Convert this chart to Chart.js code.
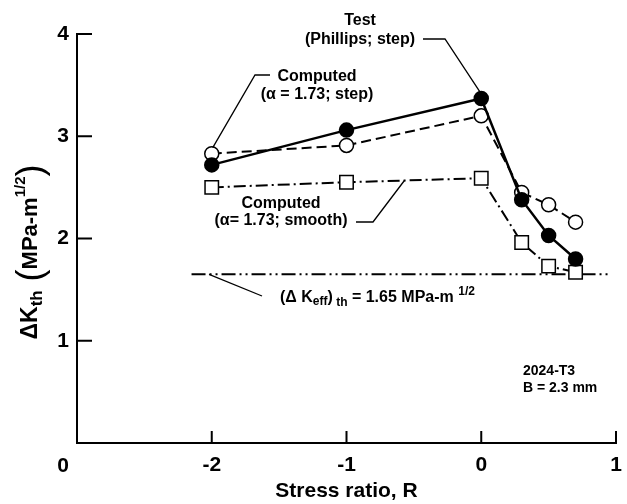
<!DOCTYPE html>
<html>
<head>
<meta charset="utf-8">
<script src="https://cdn.jsdelivr.net/npm/chart.js@4"></script>
<style>
  body { margin: 0; background: #fff; }
  canvas { display: block; }
</style>
</head>
<body>
<canvas id="thresholdChart" width="627" height="504"></canvas>
<script>
// stress ratios and threshold values (MPa-m^1/2)
const stressRatio = [-2, -1, 0, 0.3, 0.5, 0.7];
const testK = [2.72, 3.06, 3.37, 2.38, 2.03, 1.80];
const computedStepK = [2.83, 2.91, 3.20, 2.45, 2.33, 2.16];
const computedSmoothK = [2.50, 2.55, 2.59, 1.96, 1.73, 1.67];
const effRange = [-2.15, 0.95];
const effK = 1.65;
const xTicks = [-2, -1, 0, 1];
const yTicks = [1, 2, 3, 4];

const FONT = '"Liberation Sans", Arial, Helvetica, sans-serif';

function pts(xs, ys) {
    return xs.map((x, i) => ({ x: x, y: ys[i] }));
}

// inward tick marks, corner zero, axis titles and callouts
const decorations = {
    id: 'decorations',
    afterDraw(chart) {
        const ctx = chart.ctx;
        const xs = chart.scales.x;
        const ys = chart.scales.y;
        const area = chart.chartArea;
        ctx.save();
        ctx.strokeStyle = '#000';
        ctx.lineWidth = 2;
        ctx.beginPath();
        xTicks.forEach(v => {
            const px = xs.getPixelForValue(v);
            ctx.moveTo(px, area.bottom);
            ctx.lineTo(px, area.bottom - 12);
        });
        yTicks.forEach(v => {
            const py = ys.getPixelForValue(v);
            ctx.moveTo(area.left, py);
            ctx.lineTo(area.left + 15, py);
        });
        ctx.stroke();

        ctx.fillStyle = '#000';
        ctx.font = 'bold 21px ' + FONT;
        ctx.textAlign = 'center';
        ctx.textBaseline = 'middle';
        ctx.fillText('0', 63, 466);
        ctx.fillText('Stress ratio, R', (area.left + area.right) / 2, 491);

        // rotated y title with subscript / superscript
        ctx.save();
        ctx.translate(31, 252);
        ctx.rotate(-Math.PI / 2);
        drawRich(ctx, [
            { t: '\u0394K', s: 23, dy: 0 },
            { t: 'th', s: 17, dy: 6 },
            { t: '  ', s: 16, dy: 0 },
            { t: '(', s: 36, dy: 1, w: 'normal' },
            { t: 'MPa-m', s: 22, dy: 0 },
            { t: '1/2', s: 15, dy: -10 },
            { t: ')', s: 36, dy: 1, w: 'normal' }
        ], 0, 0, 'center');
        ctx.restore();

        ctx.lineWidth = 1.3;
        const P = (x, y) => [xs.getPixelForValue(x), ys.getPixelForValue(y)];

        // Test label
        ctx.font = 'bold 16px ' + FONT;
        ctx.textAlign = 'center';
        ctx.fillText('Test', 360, 21);
        ctx.fillText('(Phillips; step)', 360, 40);
        let t = P(stressRatio[2], testK[2]);
        ctx.beginPath();
        ctx.moveTo(423, 39);
        ctx.lineTo(445, 39);
        ctx.lineTo(t[0] - 1, t[1] - 6);
        ctx.stroke();

        // Computed step label
        ctx.fillText('Computed', 317, 77);
        ctx.fillText('(\u03b1 = 1.73; step)', 317, 95);
        t = P(stressRatio[0], computedStepK[0]);
        ctx.beginPath();
        ctx.moveTo(270, 75);
        ctx.lineTo(255, 75);
        ctx.lineTo(t[0] + 1, t[1] - 6);
        ctx.stroke();

        // Computed smooth label
        ctx.fillText('Computed', 281, 204);
        ctx.fillText('(\u03b1= 1.73; smooth)', 281, 221);
        const rx = -0.57;
        const ky = computedSmoothK[1] + (computedSmoothK[2] - computedSmoothK[1]) * (rx + 1);
        t = P(rx, ky);
        ctx.beginPath();
        ctx.moveTo(356, 222);
        ctx.lineTo(373, 222);
        ctx.lineTo(t[0], t[1]);
        ctx.stroke();

        // effective threshold label
        drawRich(ctx, [
            { t: '(\u0394 K', s: 16, dy: 0 },
            { t: 'eff', s: 12, dy: 4 },
            { t: ')', s: 16, dy: 0 },
            { t: ' th', s: 12, dy: 5 },
            { t: ' = 1.65 MPa-m ', s: 16, dy: 0 },
            { t: '1/2', s: 12, dy: -6 }
        ], 280, 298, 'left');
        t = P(-2.02, effK);
        ctx.beginPath();
        ctx.moveTo(262, 296);
        ctx.lineTo(t[0], t[1]);
        ctx.stroke();

        // material note
        ctx.font = 'bold 14px ' + FONT;
        ctx.textAlign = 'left';
        ctx.fillText('2024-T3', 523, 371);
        ctx.fillText('B = 2.3 mm', 523, 388);
        ctx.restore();
    }
};

function drawRich(ctx, parts, x, y, align) {
    let total = 0;
    parts.forEach(p => {
        ctx.font = (p.w || 'bold') + ' ' + p.s + 'px ' + FONT;
        p.width = ctx.measureText(p.t).width;
        total += p.width;
    });
    let cx = align === 'center' ? x - total / 2 : x;
    ctx.textAlign = 'left';
    ctx.textBaseline = 'middle';
    parts.forEach(p => {
        ctx.font = (p.w || 'bold') + ' ' + p.s + 'px ' + FONT;
        ctx.fillText(p.t, cx, y + p.dy);
        cx += p.width;
    });
}

new Chart(document.getElementById('thresholdChart'), {
    type: 'scatter',
    data: {
        datasets: [
            {
                label: 'Test (Phillips; step)',
                data: pts(stressRatio, testK),
                showLine: true,
                borderColor: '#000',
                borderWidth: 2.5,
                pointStyle: 'circle',
                pointRadius: 6.5,
                pointBackgroundColor: '#000',
                pointBorderColor: '#000'
            },
            {
                label: 'Computed (step)',
                data: pts(stressRatio, computedStepK),
                showLine: true,
                borderColor: '#000',
                borderWidth: 2,
                borderDash: [10, 5],
                pointStyle: 'circle',
                pointRadius: 7,
                pointBorderWidth: 1.5,
                pointBackgroundColor: '#fff',
                pointBorderColor: '#000'
            },
            {
                label: 'Computed (smooth)',
                data: pts(stressRatio, computedSmoothK),
                showLine: true,
                borderColor: '#000',
                borderWidth: 2,
                borderDash: [12, 4, 2, 4],
                pointStyle: 'rect',
                pointRadius: 9.5,
                pointBorderWidth: 1.5,
                pointBackgroundColor: '#fff',
                pointBorderColor: '#000'
            },
            {
                label: 'Effective threshold',
                data: pts(effRange, [effK, effK]),
                showLine: true,
                borderColor: '#000',
                borderWidth: 2,
                borderDash: [14, 4, 2, 4, 2, 4],
                pointRadius: 0
            }
        ]
    },
    options: {
        responsive: false,
        devicePixelRatio: 1,
        animation: false,
        layout: { padding: { top: 34, right: 4, left: 0, bottom: 0 } },
        plugins: {
            legend: { display: false },
            tooltip: { enabled: false }
        },
        scales: {
            x: {
                type: 'linear',
                min: -3,
                max: 1,
                afterFit: s => {
                    s.height = 61;
                    s.paddingLeft = 0;
                    s.paddingRight = 4;
                },
                afterBuildTicks: s => { s.ticks = xTicks.map(v => ({ value: v })); },
                grid: { display: true, drawOnChartArea: false, drawTicks: false },
                border: { display: true, color: '#000', width: 2 },
                ticks: {
                    color: '#000',
                    padding: 10,
                    maxRotation: 0,
                    font: { family: FONT, size: 21, weight: 'bold' }
                }
            },
            y: {
                min: 0,
                max: 4,
                afterFit: s => { s.width = 77; },
                afterBuildTicks: s => { s.ticks = yTicks.map(v => ({ value: v })); },
                grid: { display: true, drawOnChartArea: false, drawTicks: false },
                border: { display: true, color: '#000', width: 2 },
                ticks: {
                    color: '#000',
                    padding: 8,
                    font: { family: FONT, size: 21, weight: 'bold' }
                }
            }
        }
    },
    plugins: [decorations]
});
</script>
</body>
</html>
